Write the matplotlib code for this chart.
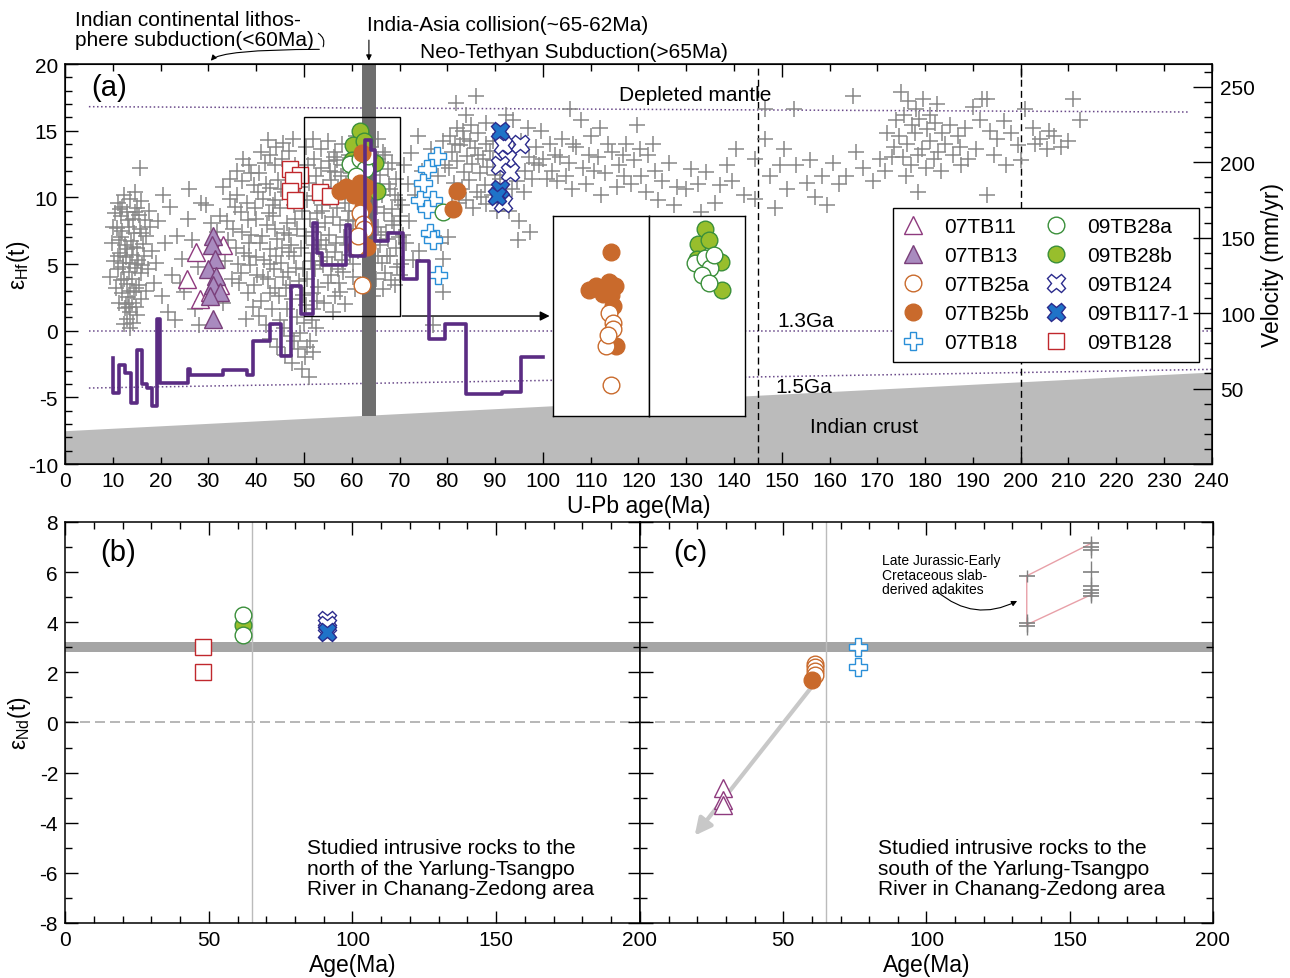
import matplotlib.pyplot as plt
import numpy as np
from matplotlib.lines import Line2D
from matplotlib.patches import Rectangle
from matplotlib.ticker import MultipleLocator, FuncFormatter

plt.rcParams['font.family'] = ['Liberation Sans', 'DejaVu Sans']
plt.rcParams['font.size'] = 15
plt.rcParams['axes.unicode_minus'] = False
plt.rcParams['mathtext.fontset'] = 'custom'
plt.rcParams['mathtext.rm'] = 'Liberation Sans'

# ---- compiled zircon Hf data (age Ma, eHf(t)) ----
hf_10_20 = [(11.0, 9.6), (12.3, 10.2), (13.5, 9.9), (14.6, 10.4), (16.0, 9.7), (15.6, 12.2),
            (10.4, 8.8), (11.8, 8.6), (13.0, 8.9), (14.2, 8.4), (15.4, 8.7), (16.8, 8.3), (17.6, 9.0),
            (10.8, 7.7), (12.0, 7.5), (13.3, 7.8), (14.5, 7.3), (15.7, 7.6), (17.0, 7.1),
            (9.8, 6.6), (11.2, 6.8), (12.5, 6.4), (13.8, 6.7), (15.0, 6.2), (16.3, 6.5), (18.2, 6.0),
            (11.5, 5.8), (12.8, 5.5), (14.0, 5.7), (15.3, 5.3), (16.6, 5.6), (10.2, 5.2),
            (11.0, 4.6), (12.2, 4.8), (13.4, 4.4), (14.7, 4.7), (16.0, 4.3), (17.4, 4.6),
            (11.7, 3.8), (12.9, 3.5), (14.1, 3.9), (15.4, 3.4), (10.6, 3.2),
            (12.0, 2.8), (13.2, 2.5), (14.4, 2.9), (15.8, 2.4), (11.4, 2.1),
            (12.6, 1.7), (13.7, 1.4), (14.9, 1.8), (13.0, 0.9), (14.2, 0.6), (13.6, 0.2), (12.4, 0.5),
            (16.9, 3.0), (18.6, 3.6), (17.8, 7.8), (19.0, 5.1), (9.5, 4.0), (15.0, 9.2), (12.0, 9.3),
            (11.8, 7.0), (13.0, 6.1), (14.3, 6.3), (12.4, 3.9), (13.6, 3.0), (14.8, 3.2), (12.2, 5.1),
            (13.6, 5.1), (15.0, 5.0), (13.2, 8.3), (14.6, 8.9), (11.6, 9.1), (12.8, 2.0), (14.0, 2.1),
            (15.0, 1.2), (13.4, 1.8), (16.2, 4.9), (16.0, 7.3), (11.0, 5.6), (10.0, 7.8)]
hf_20_35 = [(19.5, 8.2), (21.0, 6.6), (22.3, 4.2), (20.2, 2.6), (23.5, 7.1), (24.5, 5.4), (22.0, 9.3),
            (25.8, 8.4), (26.5, 6.8), (27.2, 1.6), (25.0, 2.9), (23.0, 0.8), (28.5, 9.6), (29.6, 9.4),
            (30.5, 8.1), (31.8, 7.4), (32.5, 8.6), (27.8, 4.8), (33.5, 5.2), (34.2, 6.8), (28.0, 0.4),
            (33.0, 2.1), (35.0, 3.9), (34.5, 9.9), (20.5, 10.2), (26.0, 10.6), (24.0, 3.6), (21.5, 1.4)]
hf_35_50 = [(33.0, 10.8), (34.5, 11.4), (36.0, 10.2), (37.3, 12.9), (38.5, 12.4), (36.8, 8.9), (35.2, 7.6),
            (38.0, 9.6), (39.5, 10.9), (40.5, 11.8), (41.8, 12.6), (43.0, 13.2), (44.2, 13.8), (45.5, 12.9),
            (46.8, 13.5), (42.5, 14.3), (40.0, 8.4), (41.5, 9.9), (43.0, 10.7), (44.5, 11.3), (46.0, 10.4),
            (47.5, 11.6), (39.0, 7.2), (40.8, 6.6), (42.2, 7.9), (43.6, 8.6), (45.0, 9.2), (46.4, 8.1),
            (48.0, 9.4), (49.2, 10.8), (37.5, 5.8), (38.8, 4.9), (40.2, 4.2), (41.6, 5.3), (43.0, 6.1),
            (44.4, 6.9), (45.8, 7.3), (47.2, 6.4), (48.6, 7.6), (36.5, 3.6), (38.2, 2.8), (39.6, 3.4),
            (41.0, 2.2), (42.4, 3.9), (43.8, 4.6), (45.2, 5.1), (46.6, 4.4), (48.0, 5.6), (49.4, 6.2),
            (40.6, 1.1), (42.0, 0.4), (43.4, 1.6), (44.8, 2.6), (46.2, 3.2), (47.6, 2.4), (49.0, 3.7),
            (43.0, -0.6), (44.4, -1.2), (45.8, 0.2), (47.2, -0.4), (48.6, 1.0), (50.0, 0.6), (46.0, -1.8),
            (47.4, -2.4), (48.8, -1.4), (50.2, -2.0), (51.2, -0.8), (49.6, -2.9), (51.0, -3.5), (52.0, -1.6),
            (50.4, 1.9), (51.8, 2.8), (52.6, 0.2), (49.8, 4.6), (48.2, 12.4), (35.5, 9.3), (34.0, 8.2),
            (37.0, 11.2), (41.0, 13.4), (44.0, 9.8), (45.6, 14.1), (47.8, 14.4), (38.6, 6.6), (42.8, 5.0),
            (46.8, 5.9), (44.0, 3.2), (39.4, 1.8), (36.2, 5.0), (37.8, 0.9),
            (35.8, 6.2), (37.0, 7.4), (38.2, 8.3), (39.8, 9.2), (41.2, 7.1), (42.6, 8.8), (44.0, 7.6),
            (45.4, 6.2), (46.8, 7.2), (48.2, 8.4), (49.6, 9.0), (36.8, 4.3), (38.4, 5.6), (40.0, 5.5),
            (41.4, 4.0), (42.8, 2.8), (44.2, 5.6), (45.6, 4.0), (47.0, 3.4), (48.4, 4.7), (49.8, 2.7),
            (48.0, -0.8), (49.2, -0.2), (45.0, 0.8), (46.4, 1.6), (43.6, 9.4), (42.0, 11.0), (39.0, 11.8),
            (36.0, 12.0), (47.0, 9.9), (45.2, 10.6), (44.0, 12.4), (40.4, 10.4)]
hf_50_70 = [(50.5, 13.8), (52.0, 14.4), (53.5, 13.6), (55.0, 14.2), (56.5, 13.4), (58.0, 14.0), (59.5, 13.2),
            (61.0, 14.6), (64.0, 13.8), (65.5, 14.4), (67.0, 13.2), (68.5, 12.6),
            (50.8, 12.4), (52.2, 12.9), (53.6, 12.2), (55.2, 12.7), (56.6, 11.9), (58.2, 12.4), (59.8, 11.8),
            (64.5, 12.3), (66.0, 11.7), (67.6, 12.1), (69.2, 11.4),
            (51.0, 11.1), (52.6, 11.6), (54.0, 10.8), (55.6, 11.3), (57.2, 10.6), (58.8, 11.0), (64.8, 10.9),
            (66.4, 10.2), (68.0, 10.6), (69.6, 9.8),
            (50.6, 9.8), (52.2, 10.1), (53.8, 9.4), (55.4, 9.9), (57.0, 9.2), (58.6, 9.6), (65.2, 9.3),
            (66.8, 8.8), (68.4, 9.1), (70.0, 8.6),
            (51.2, 8.4), (52.8, 8.8), (54.4, 8.1), (56.0, 8.5), (57.6, 7.9), (59.2, 8.3), (65.6, 7.8),
            (67.2, 7.4), (68.8, 7.9),
            (50.4, 7.1), (52.0, 7.4), (53.6, 6.8), (55.2, 7.2), (56.8, 6.6), (58.4, 7.0), (66.0, 6.4),
            (67.6, 6.9), (69.2, 6.2),
            (51.6, 5.8), (53.2, 6.1), (54.8, 5.5), (56.4, 5.9), (58.0, 5.3), (59.6, 5.7), (66.4, 5.1), (68.0, 5.6),
            (52.4, 4.6), (54.0, 4.9), (55.6, 4.2), (57.2, 4.6), (60.2, 4.0), (65.0, 3.9), (67.0, 4.3),
            (53.0, 3.3), (55.0, 3.6), (57.6, 2.9), (60.6, 3.1), (64.4, 2.6), (54.2, 2.1), (56.0, 1.4),
            (58.6, 2.0), (52.0, 1.6), (60.0, 12.6), (61.6, 11.9), (60.4, 10.2), (61.2, 9.0), (60.8, 7.6),
            (61.4, 6.0), (60.2, 5.0), (66.6, 3.1), (69.0, 3.4), (70.4, 5.0), (70.8, 7.2),
            (50.6, 3.9), (51.4, 5.2), (52.2, 6.4), (53.0, 7.8), (53.8, 9.0), (54.6, 10.2), (55.4, 12.0),
            (56.2, 13.0), (57.0, 12.8), (57.8, 11.6), (58.6, 10.4), (59.4, 9.0), (60.2, 8.2), (59.0, 6.4),
            (58.2, 4.4), (57.4, 3.6), (56.6, 2.6), (55.8, 5.0), (54.6, 6.4), (53.4, 5.2), (52.8, 2.2),
            (50.6, -1.2), (51.6, 0.8), (63.2, 11.4), (64.0, 10.0), (65.6, 12.9), (66.6, 13.4), (67.8, 11.0),
            (69.0, 10.2), (68.4, 8.2), (66.2, 7.2), (64.6, 6.8), (65.4, 5.6), (67.4, 5.6), (69.8, 7.0),
            (69.4, 4.8), (68.2, 3.8)]
hf_70_80 = [(71.0, 12.4), (72.5, 13.3), (73.9, 14.6), (71.8, 11.0), (73.2, 10.2), (70.6, 9.4), (72.0, 8.2),
            (71.4, 6.6), (72.8, 5.3), (70.2, 4.2), (74.0, 6.0), (78.6, 6.6), (79.1, 5.4), (79.1, 2.9),
            (77.0, 0.4), (80.2, 7.0), (78.0, 11.6), (79.5, 12.4), (74.8, 12.0), (76.6, 13.6), (79.0, 14.2)]
hf_80_100 = [(80.5, 14.6), (82.0, 15.2), (83.5, 14.4), (85.0, 15.4), (86.5, 14.8), (88.0, 15.6), (89.5, 14.2),
             (81.0, 13.4), (82.6, 13.9), (84.2, 13.1), (85.8, 13.7), (87.4, 12.9), (89.0, 13.5), (80.4, 12.2),
             (82.0, 12.7), (83.6, 11.9), (85.2, 12.5), (86.8, 11.8), (88.4, 12.3), (90.0, 11.7), (81.4, 11.1),
             (83.0, 10.6), (84.6, 11.3), (86.2, 10.4), (87.8, 10.9), (89.4, 10.2), (82.4, 9.6), (85.4, 9.2),
             (88.2, 9.5), (84.0, 16.2), (86.0, 17.6), (81.9, 17.1), (94.0, 13.6), (95.5, 14.2), (97.0, 13.0),
             (98.5, 13.8), (100.0, 12.9), (96.2, 12.0), (97.8, 11.4), (99.2, 12.4), (94.6, 11.2), (96.0, 10.4),
             (93.8, 15.8), (99.6, 15.0), (101.4, 14.0), (95.0, 8.2), (97.4, 7.4), (93.0, 9.0), (94.8, 6.8),
             (81.6, 14.0), (83.2, 15.0), (84.8, 14.2), (86.4, 13.2), (88.0, 14.0), (89.6, 12.8), (91.4, 13.4),
             (92.8, 14.2), (91.0, 11.4), (92.6, 12.2), (93.6, 10.6), (87.0, 10.0), (84.0, 9.8), (81.0, 9.4),
             (90.4, 9.0), (92.2, 16.2), (96.8, 15.2), (98.2, 12.6)]
hf_100_145 = [(102.5, 13.2), (104.0, 14.4), (105.5, 12.6), (107.0, 13.8), (108.5, 12.2), (110.0, 14.6),
              (111.5, 13.0), (113.0, 11.8), (114.5, 13.4), (116.0, 12.4), (117.5, 14.0), (119.0, 12.8),
              (120.5, 11.6), (122.0, 13.2), (123.5, 12.0), (125.0, 11.2), (126.5, 12.6), (128.0, 10.8),
              (103.0, 11.2), (106.2, 10.6), (109.0, 11.0), (112.2, 10.2), (115.6, 10.8), (118.4, 11.0),
              (121.6, 10.4), (124.2, 9.8), (127.4, 9.4), (105.6, 16.6), (112.0, 15.2), (119.6, 15.4),
              (108.0, 15.8), (131.0, 12.1), (132.5, 11.0), (134.2, 11.9), (137.0, 10.9), (138.5, 12.4),
              (140.5, 13.6), (139.6, 11.2), (142.0, 10.2), (136.0, 9.6), (133.0, 8.9), (130.0, 10.6),
              (100.8, 11.4), (102.0, 12.0), (103.6, 13.0), (106.4, 14.0), (109.6, 13.2), (113.6, 14.0),
              (116.8, 13.2), (120.4, 13.6), (123.0, 14.0), (104.8, 11.6), (110.8, 12.0), (117.0, 11.6)]
hf_145_175 = [(144.4, 12.9), (146.4, 14.4), (146.4, 16.6), (144.4, 9.9), (147.5, 11.6), (149.6, 12.4),
              (151.0, 10.6), (153.0, 12.4), (155.2, 11.1), (157.0, 10.0), (158.5, 11.6), (160.7, 12.6),
              (162.0, 11.0), (163.5, 11.6), (165.6, 13.4), (164.9, 17.6), (159.5, 9.4), (152.5, 16.6),
              (148.5, 9.2), (150.5, 13.6), (167.0, 12.2), (169.0, 11.2), (156.0, 12.8), (171.5, 12.0),
              (173.0, 13.0)]
hf_175_215 = [(175.0, 17.9), (176.5, 17.2), (178.0, 16.6), (179.5, 17.4), (181.0, 16.2), (182.5, 17.0),
              (174.0, 15.8), (175.6, 16.2), (177.2, 15.4), (178.8, 15.9), (180.4, 15.1), (182.0, 15.6),
              (183.6, 14.8), (185.2, 15.4), (186.8, 14.6), (188.4, 15.2), (174.6, 14.6), (176.2, 14.0),
              (177.8, 14.8), (179.4, 13.6), (181.0, 14.2), (182.6, 13.4), (184.2, 14.0), (185.8, 13.2),
              (187.4, 13.8), (189.0, 12.9), (190.6, 13.6), (175.4, 13.0), (177.0, 12.4), (178.6, 13.2),
              (180.2, 12.2), (181.8, 12.9), (183.4, 12.0), (176.0, 11.6), (178.5, 10.4), (172.0, 14.8),
              (173.5, 13.8), (170.5, 12.9), (190.0, 16.8), (192.0, 17.4), (193.0, 17.4), (191.5, 15.8),
              (193.5, 15.0), (195.0, 14.4), (196.6, 15.7), (198.0, 14.8), (199.5, 13.9), (201.0, 16.6),
              (202.5, 15.2), (204.0, 14.4), (205.5, 13.6), (207.0, 14.6), (208.5, 13.8), (210.0, 14.2),
              (211.0, 17.4), (212.5, 15.8), (200.0, 12.8), (194.5, 13.2), (197.0, 12.4), (187.6, 12.4),
              (193.0, 10.2), (203.0, 14.0), (206.0, 15.0)]
ref_hf = np.array(hf_10_20 + hf_20_35 + hf_35_50 + hf_50_70 + hf_70_80 + hf_80_100
                  + hf_100_145 + hf_145_175 + hf_175_215)

# ---- zircon Hf of the studied samples ----
tb11_age = [25.5, 27.5, 33.1, 28.2, 30.3, 32.4]
tb11_hf = [3.9, 5.9, 6.4, 2.4, 2.9, 3.4]
tb13_age = [31.0, 30.7, 31.4, 30.0, 31.7, 31.0, 32.4, 30.3, 31.0]
tb13_hf = [7.1, 6.4, 5.4, 4.6, 4.1, 3.4, 2.9, 2.6, 0.9]
tb25a_age = [61.7, 62.4, 61.0, 62.1, 62.6, 61.4]
tb25a_hf = [8.8, 8.0, 6.3, 3.4, 7.6, 7.1]
tb25b_age = [57.5, 58.9, 61.7, 62.1, 62.4, 62.1, 63.1, 62.1, 60.5, 63.0, 82.0, 81.3]
tb25b_hf = [10.5, 10.8, 11.1, 10.1, 9.3, 6.5, 6.3, 13.3, 10.2, 10.8, 10.5, 9.1]
tb18_age = [77.8, 75.7, 75.0, 77.1, 74.3, 75.7, 76.4, 77.1, 78.1]
tb18_hf = [13.1, 12.1, 11.1, 9.8, 9.8, 9.1, 7.3, 6.8, 4.2]
tb28a_age = [59.6, 61.7, 62.8, 63.5, 61.0, 62.4, 79.1]
tb28a_hf = [12.5, 12.9, 12.1, 13.1, 11.6, 11.0, 8.9]
tb28b_age = [61.7, 60.3, 65.2, 64.9, 62.5, 60.0]
tb28b_hf = [15.0, 13.9, 10.5, 12.6, 14.2, 12.8]
tb124_age = [91.7, 95.2, 92.4, 91.0, 93.1, 91.7]
tb124_hf = [13.9, 14.0, 12.9, 12.4, 11.9, 9.6]
tb117_age = [91.0, 91.0, 90.3]
tb117_hf = [15.0, 10.6, 10.1]
tb128_age = [47.1, 49.2, 47.8, 47.1, 48.1, 53.3, 55.4]
tb128_hf = [12.1, 11.7, 11.3, 10.5, 9.8, 10.4, 10.1]

# India-Asia convergence rate (mm/yr), stepwise
vel_age = [10, 10, 11.4, 12.55, 13.8, 15, 16.2, 17.2, 18.1, 19.2, 19.9, 25.7, 26.1, 33.1, 38, 39.4,
           42.9, 45.1, 47.2, 49.3, 51.8, 52.7, 53.7, 58.8, 59.6, 62.8, 64.0, 64.9, 67.6, 70.8, 73.6,
           76.2, 79.5, 84.0, 91.4, 95.5, 100.0]
vel_rate = [70.5, 47.3, 65.4, 60.5, 40.7, 75.3, 52.8, 50.6, 38.5, 95.8, 53.9, 62.7, 58.8, 62.1, 58.8, 81.5,
            92.9, 71.6, 118.2, 99.7, 159.6, 139.8, 132.0, 158.5, 137.6, 214.7, 208.0, 147.5, 153.0, 122.6,
            134.3, 83.0, 92.5, 46.5, 48.0, 71.1, 71.1]

# ---- whole-rock Nd, panel (b) north of the river ----
nb_tb128_age = [48, 48]
nb_tb128_nd = [3.0, 2.0]
nb_tb28a_age = [62, 62]
nb_tb28a_nd = [4.3, 3.5]
nb_tb28b_age = [62]
nb_tb28b_nd = [3.9]
nb_tb124_age = [91, 91]
nb_tb124_nd = [4.1, 3.9]
nb_tb117_age = [91]
nb_tb117_nd = [3.6]

# ---- panel (c) south of the river ----
sc_tb25a_age = [61, 61, 61, 61]
sc_tb25a_nd = [2.35, 2.2, 2.05, 1.9]
sc_tb25b_age = [60]
sc_tb25b_nd = [1.7]
sc_tb18_age = [76, 76]
sc_tb18_nd = [3.0, 2.2]
sc_tb11_age = [29, 29, 29]
sc_tb11_nd = [-2.6, -3.1, -3.3]
adk_age = [135, 135, 135, 157.5, 157.5, 157.5, 157.5, 157.5, 157.5, 157.5, 157.5]
adk_nd = [5.85, 3.98, 3.85, 7.15, 7.0, 6.88, 6.0, 5.45, 5.3, 5.15, 5.05]
adk_err = [0.25, 0.35, 0.35, 0.3, 0.3, 0.3, 0.45, 0.35, 0.3, 0.3, 0.3]
adk_env_age = [157.5, 135, 135, 157.5]
adk_env_nd = [7.15, 5.85, 3.9, 5.1]

C_TB11 = '#8E3A7E'
C_TB13 = '#A98BBF'
C_OR = '#C96A2C'
C_GF = '#98BE2C'
C_GE = '#3A8F3A'
C_BL = '#2A8FD8'
C_NV = '#2B2B8C'
C_XB = '#1F73C8'
C_RD = '#C0282D'
C_REF = '#888888'

styles = {
    '07TB11': dict(marker='^', mfc='white', mec=C_TB11, ms=13),
    '07TB13': dict(marker='^', mfc=C_TB13, mec='#7A3F7A', ms=13),
    '07TB25a': dict(marker='o', mfc='white', mec=C_OR, ms=12),
    '07TB25b': dict(marker='o', mfc=C_OR, mec=C_OR, ms=12),
    '07TB18': dict(marker='P', mfc='white', mec=C_BL, ms=13),
    '09TB28a': dict(marker='o', mfc='white', mec=C_GE, ms=12),
    '09TB28b': dict(marker='o', mfc=C_GF, mec=C_GE, ms=12),
    '09TB124': dict(marker='X', mfc='white', mec=C_NV, ms=13),
    '09TB117-1': dict(marker='X', mfc=C_XB, mec=C_NV, ms=13),
    '09TB128': dict(marker='s', mfc='white', mec=C_RD, ms=12),
}


def pts(ax, x, y, name, z=6):
    ax.plot(x, y, ls='none', mew=1.0, zorder=z, **styles[name])


def set_ticks(ax, xmaj, xmin, ymaj, ymin, lmaj=9, lmin=5):
    ax.xaxis.set_major_locator(MultipleLocator(xmaj))
    ax.xaxis.set_minor_locator(MultipleLocator(xmin))
    ax.yaxis.set_major_locator(MultipleLocator(ymaj))
    ax.yaxis.set_minor_locator(MultipleLocator(ymin))
    ax.tick_params(which='both', direction='in', width=1, pad=5, labelsize=15)
    ax.tick_params(which='major', length=lmaj)
    ax.tick_params(which='minor', length=lmin)
    for s in ax.spines.values():
        s.set_linewidth(1.1)


fig = plt.figure(figsize=(12.9, 9.79), dpi=100)

# ================= panel (a) =================
ax = fig.add_axes([0.0504, 0.525, 0.889, 0.4086])
ax.set_xlim(0, 240)
ax.set_ylim(-10, 20)
set_ticks(ax, 50, 10, 5, 1)
ax.tick_params(which='both', top=True, right=False)
ax.xaxis.set_minor_formatter(FuncFormatter(lambda v, p: f'{v:g}'))
ax.tick_params(which='minor', labelsize=15, pad=5)

# Indian crust field
ax.fill_between([0, 240], [-7.5, -3.1], -10, color='#BBBBBB', lw=0, zorder=1)
# reference evolution lines
ax.plot([5, 235], [16.8, 16.4], ls=':', color='#6A4A8A', lw=1.1, zorder=2)
ax.plot([5, 240], [0, 0], ls=':', color='#6A4A8A', lw=1.1, zorder=2)
ax.plot([5, 240], [-4.3, -2.9], ls=':', color='#6A4A8A', lw=1.1, zorder=2)
for xv in (145, 200):
    ax.axvline(xv, color='black', lw=1, ls=(0, (5, 3)), zorder=2)

ax.plot(ref_hf[:, 0], ref_hf[:, 1], ls='none', marker='+', ms=12, mew=1.1, color=C_REF, zorder=3)
ax.axvspan(62.2, 65.0, ymin=(-6.4 + 10) / 30, ymax=1, color='#6E6E6E', lw=0, zorder=4)

pts(ax, tb11_age, tb11_hf, '07TB11')
pts(ax, tb13_age, tb13_hf, '07TB13')
pts(ax, tb128_age, tb128_hf, '09TB128')
pts(ax, tb18_age, tb18_hf, '07TB18')
pts(ax, tb28b_age, tb28b_hf, '09TB28b')
pts(ax, tb28a_age, tb28a_hf, '09TB28a')
pts(ax, tb25b_age, tb25b_hf, '07TB25b')
pts(ax, tb25a_age, tb25a_hf, '07TB25a')
pts(ax, tb124_age, tb124_hf, '09TB124')
pts(ax, tb117_age, tb117_hf, '09TB117-1')

ax.add_patch(Rectangle((50, 1.1), 20, 14.9, fill=False, ec='black', lw=1, zorder=7))
ax.annotate('', xy=(102, 1.1), xytext=(70, 1.1),
            arrowprops=dict(arrowstyle='-|>', color='black', lw=1, mutation_scale=14), zorder=7)

ax.text(5.5, 18.3, '(a)', fontsize=21, va='center')
ax.text(115.9, 17.75, 'Depleted mantle', va='center')
ax.text(149, 0.8, '1.3Ga', va='center')
ax.text(148.7, -4.2, '1.5Ga', va='center')
ax.text(156, -7.2, 'Indian crust', va='center')

ax.set_xlabel('U-Pb age(Ma)', fontsize=16.5, labelpad=3)
ax.set_ylabel('ε$_{\\mathrm{Hf}}$(t)', fontsize=16.5)
ax.yaxis.set_label_coords(-0.029, 0.5)

# annotations above the frame
fig.text(0.058, 0.969, 'Indian continental lithos-\nphere subduction(<60Ma)', va='center',
         linespacing=1.05)
ax.annotate('', xy=(30.3, 20.05), xytext=(53.8, 21.1), annotation_clip=False,
            arrowprops=dict(arrowstyle='-|>', color='black', lw=0.8, mutation_scale=8,
                            connectionstyle='angle3,angleA=0,angleB=90'))
ax.annotate('', xy=(53.8, 21.1), xytext=(52.5, 22.4), annotation_clip=False,
            arrowprops=dict(arrowstyle='-', color='black', lw=0.8,
                            connectionstyle='arc3,rad=-0.5'))
fig.text(367 / 1290, 0.974, 'India-Asia collision(~65-62Ma)', va='center')
ax.annotate('', xy=(63.6, 20.05), xytext=(63.6, 22.0), annotation_clip=False,
            arrowprops=dict(arrowstyle='-|>', color='black', lw=0.8, mutation_scale=8))
fig.text(420 / 1290, 0.946, 'Neo-Tethyan Subduction(>65Ma)', va='center')

# legend
handles = [Line2D([], [], ls='none', mew=1.0, **styles[k]) for k in styles]
leg = ax.legend(handles, list(styles), ncol=2, loc='upper left', bbox_to_anchor=(0.722, 0.64),
                frameon=True, fancybox=False, edgecolor='black', framealpha=1, fontsize=15,
                handlelength=1.0, handletextpad=1.0, columnspacing=0.8, labelspacing=0.48,
                borderpad=0.45, borderaxespad=0)
leg.get_frame().set_linewidth(1)
leg.set_zorder(10)

# velocity axis
ax2 = ax.twinx()
ax2.set_ylim(0, 265)
ax2.yaxis.set_major_locator(MultipleLocator(50))
ax2.yaxis.set_minor_locator(MultipleLocator(10))
ax2.yaxis.set_major_formatter(FuncFormatter(lambda v, p: '' if v == 0 else f'{v:g}'))
ax2.tick_params(which='both', direction='in', width=1, pad=6, labelsize=15)
ax2.tick_params(which='major', length=14)
ax2.tick_params(which='minor', length=6)
ax2.step(vel_age, vel_rate, where='post', color='#5B2C83', lw=2.6, zorder=5)
ax2.set_ylabel('Velocity (mm/yr)', fontsize=16.5)
ax2.yaxis.set_label_coords(1.043, 0.5)

# enlarged views of the boxed area
for i, left in enumerate((553, 649)):
    ins = fig.add_axes([left / 1290, 1 - 417 / 979, 96 / 1290, 200 / 979])
    ins.set_xlim(50, 70)
    ins.set_ylim(1.1, 16)
    ins.set_xticks([])
    ins.set_yticks([])
    for s in ins.spines.values():
        s.set_linewidth(1)
    if i == 0:
        pts(ins, [a for a in tb25b_age if a < 70], [e for a, e in zip(tb25b_age, tb25b_hf) if a < 70], '07TB25b')
        pts(ins, tb25a_age, tb25a_hf, '07TB25a')
    else:
        pts(ins, tb28b_age, tb28b_hf, '09TB28b')
        pts(ins, [a for a in tb28a_age if a < 70], [e for a, e in zip(tb28a_age, tb28a_hf) if a < 70], '09TB28a')

# ================= panels (b) and (c) =================
axb = fig.add_axes([0.0504, 0.0562, 0.4457, 0.4096])
axc = fig.add_axes([0.4961, 0.0562, 0.4442, 0.4096])
for a in (axb, axc):
    a.set_xlim(0, 200)
    a.set_ylim(-8, 8)
    set_ticks(a, 50, 10, 2, 1)
    a.tick_params(which='both', top=True, right=True)
    a.axhspan(2.8, 3.2, color='#A5A5A5', lw=0, zorder=1)
    a.axhline(0, color='#AAAAAA', lw=1.2, ls=(0, (6, 3)), zorder=1)
    a.axvline(65, color='#BBBBBB', lw=1, zorder=1)
    a.set_xlabel('Age(Ma)', fontsize=16.5, labelpad=3)
axc.tick_params(labelleft=False)
axc.xaxis.set_major_formatter(FuncFormatter(lambda v, p: '' if v == 0 else f'{v:g}'))
axb.set_ylabel('ε$_{\\mathrm{Nd}}$(t)', fontsize=16.5)
axb.yaxis.set_label_coords(-0.056, 0.5)

pts(axb, nb_tb128_age, nb_tb128_nd, '09TB128')
pts(axb, nb_tb28b_age, nb_tb28b_nd, '09TB28b')
pts(axb, nb_tb28a_age, nb_tb28a_nd, '09TB28a')
pts(axb, nb_tb124_age, nb_tb124_nd, '09TB124')
pts(axb, nb_tb117_age, nb_tb117_nd, '09TB117-1')
axb.text(12.2, 6.8, '(b)', fontsize=21, va='center')
axb.text(84.2, -4.6, 'Studied intrusive rocks to the\nnorth of the Yarlung-Tsangpo\nRiver in Chanang-Zedong area',
         va='top', linespacing=1.12)

axc.annotate('', xy=(18.5, -4.6), xytext=(60.5, 1.5),
             arrowprops=dict(arrowstyle='-|>', color='#C8C8C8', lw=3, mutation_scale=25), zorder=2)
pts(axc, sc_tb25a_age, sc_tb25a_nd, '07TB25a')
pts(axc, sc_tb25b_age, sc_tb25b_nd, '07TB25b')
pts(axc, sc_tb18_age, sc_tb18_nd, '07TB18')
pts(axc, sc_tb11_age, sc_tb11_nd, '07TB11')
axc.plot(adk_env_age, adk_env_nd, color='#E8A0A8', lw=1, zorder=3)
axc.errorbar(adk_age, adk_nd, yerr=adk_err, fmt='_', ms=12, mew=1.2, color='#808080',
             elinewidth=1, capsize=0, zorder=4)
axc.text(84.5, 6.75, 'Late Jurassic-Early\nCretaceous slab-\nderived adakites', fontsize=10, va='top',
         linespacing=1.05)
axc.annotate('', xy=(132.5, 4.9), xytext=(103, 5.3),
             arrowprops=dict(arrowstyle='-|>', color='black', lw=0.8, mutation_scale=8,
                             connectionstyle='arc3,rad=0.35'))
axc.text(83.1, -4.6, 'Studied intrusive rocks to the\nsouth of the Yarlung-Tsangpo\nRiver in Chanang-Zedong area',
         va='top', linespacing=1.12)
axc.text(11.5, 6.8, '(c)', fontsize=21, va='center')

fig.savefig('out.png', dpi=100)
